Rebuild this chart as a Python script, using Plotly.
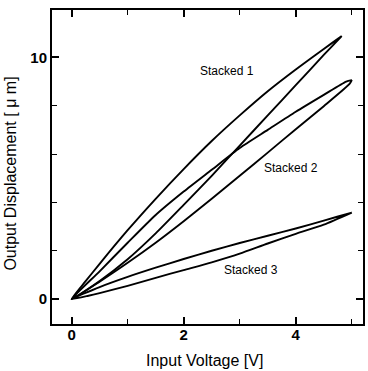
import plotly.graph_objects as go

# Stacked 1 loop (rising branch upper, returning branch lower)
s1_up_x = [0, 0.25, 0.5, 1.0, 1.5, 2.0, 2.5, 3.0, 3.5, 4.0, 4.5, 4.82]
s1_up_y = [0, 0.74, 1.46, 2.85, 4.15, 5.38, 6.54, 7.6, 8.6, 9.5, 10.35, 10.88]
s1_lo_x = [4.82, 4.5, 4.0, 3.5, 3.0, 2.5, 2.0, 1.5, 1.0, 0.5, 0]
s1_lo_y = [10.88, 10.1, 8.85, 7.6, 6.35, 5.1, 3.9, 2.72, 1.65, 0.75, 0]

# Stacked 2 loop
s2_up_x = [0, 0.5, 1.0, 1.5, 2.0, 2.5, 3.0, 3.5, 4.0, 4.5, 4.9, 5.0]
s2_up_y = [0, 1.15, 2.33, 3.48, 4.45, 5.35, 6.25, 7.0, 7.75, 8.45, 9.0, 9.06]
s2_lo_x = [5.0, 4.96, 4.5, 4.0, 3.5, 3.0, 2.5, 2.0, 1.5, 1.0, 0.5, 0]
s2_lo_y = [9.06, 8.9, 7.98, 7.03, 6.06, 5.1, 4.15, 3.22, 2.33, 1.5, 0.72, 0]

# Stacked 3 loop
s3_up_x = [0, 0.5, 1.0, 1.5, 2.0, 2.5, 3.0, 3.5, 4.0, 4.5, 5.0]
s3_up_y = [0, 0.5, 0.92, 1.3, 1.66, 2.0, 2.32, 2.62, 2.92, 3.25, 3.58]
s3_lo_x = [5.0, 4.5, 4.0, 3.5, 3.0, 2.5, 2.0, 1.5, 1.0, 0.5, 0.3, 0]
s3_lo_y = [3.58, 3.08, 2.7, 2.3, 1.88, 1.52, 1.2, 0.88, 0.55, 0.25, 0.14, 0]

labels = ["Stacked 1", "Stacked 2", "Stacked 3"]
label_x = [2.77, 3.92, 3.2]
label_y = [9.43, 5.44, 1.2]

x_tickvals = [0, 2, 4]
x_ticktext = ["0", "2", "4"]
y_tickvals = [0, 10]
y_ticktext = ["0", "10"]

FONT = "Liberation Sans"

fig = go.Figure()
for ux, uy, lx, ly in [(s1_up_x, s1_up_y, s1_lo_x, s1_lo_y),
                       (s2_up_x, s2_up_y, s2_lo_x, s2_lo_y),
                       (s3_up_x, s3_up_y, s3_lo_x, s3_lo_y)]:
    fig.add_trace(go.Scatter(x=ux + lx, y=uy + ly, mode="lines",
                             line=dict(color="black", width=1.9, shape="spline", smoothing=0.6),
                             showlegend=False, hoverinfo="skip"))

for t, x, y in zip(labels, label_x, label_y):
    fig.add_annotation(x=x, y=y, text=t, showarrow=False,
                       font=dict(family=FONT, size=12, color="black"))

# axis titles as paper annotations for exact placement
fig.add_annotation(xref="paper", yref="paper", x=0.489, y=-0.115,
                   xanchor="center", yanchor="middle", showarrow=False,
                   text="Input Voltage [V]", font=dict(family=FONT, size=16, color="black"))
fig.add_annotation(xref="paper", yref="paper", x=-0.134, y=0.48,
                   xanchor="center", yanchor="middle", showarrow=False, textangle=-90,
                   text="Output Displacement [ μ m]", font=dict(family=FONT, size=16, color="black"))

axis_common = dict(showline=True, linecolor="black", linewidth=2, mirror="ticks",
                   ticks="inside", ticklen=7, tickwidth=1.5, tickcolor="black",
                   showgrid=False, zeroline=False,
                   tickfont=dict(family=FONT, size=15, color="black", weight="bold"))

fig.update_xaxes(range=[-0.35, 5.2], tickvals=x_tickvals, ticktext=x_ticktext,
                 ticklabelstandoff=-4,
                 minor=dict(dtick=1, tick0=0, ticks="inside", ticklen=5, tickwidth=1.2, tickcolor="black", showgrid=False),
                 **axis_common)
fig.update_yaxes(range=[-1.03, 11.96], tickvals=y_tickvals, ticktext=y_ticktext,
                 minor=dict(dtick=2, tick0=0, ticks="inside", ticklen=5, tickwidth=1.2, tickcolor="black", showgrid=False),
                 **axis_common)

fig.update_layout(width=368, height=371, margin=dict(l=52, r=3, t=10, b=47),
                  paper_bgcolor="white", plot_bgcolor="white")

fig.write_html("out.html")
